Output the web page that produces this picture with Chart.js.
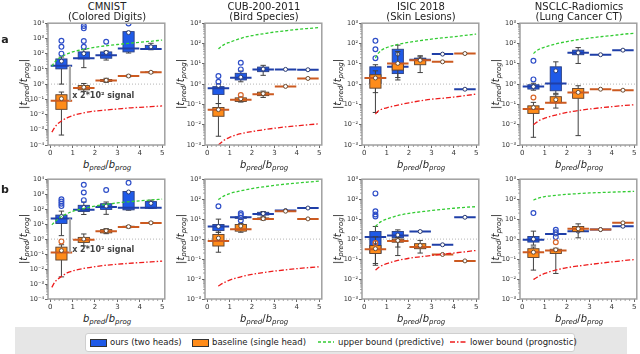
<!DOCTYPE html>
<html><head><meta charset="utf-8">
<script src="https://cdn.jsdelivr.net/npm/chart.js@4.4.1/dist/chart.umd.min.js"></script>
<style>
html,body{margin:0;padding:0;background:#fff;}
#fig{position:relative;width:640px;height:354px;overflow:hidden;font-family:"DejaVu Sans",sans-serif;color:#222;}
#fig canvas{position:absolute;}
.lbl{position:absolute;white-space:nowrap;transform:translate(-50%,-50%);line-height:1;}
.title{font-size:10px;}
.ytitle{font-size:10px;transform:translate(-50%,-50%) rotate(-90deg);}
.xtitle{font-size:10px;}
.lbl sub{font-size:70%;vertical-align:-2px;line-height:0;}
.row{font-weight:bold;font-size:11px;}
#band{position:absolute;left:15px;top:327px;width:612px;height:27px;background:#e6e6e6;}
#leg{position:absolute;left:85px;top:333px;width:488px;height:17px;background:#fff;border:1px solid #cfcfcf;border-radius:3px;font-size:8.5px;}
.li{position:absolute;top:0;height:17px;line-height:17px;white-space:nowrap;}
.sw{position:absolute;top:5px;width:15px;height:6px;border:1px solid #333;}
.ln{position:absolute;top:5px;width:16px;height:6px;}
</style></head>
<body><div id="fig"><div id="band"></div><div id="leg"></div></div>
<script>
// ---------------- data ----------------
const BIN_CENTERS = [0.5, 1.5, 2.5, 3.5, 4.5];
const X_TICKS = [0, 1, 2, 3, 4, 5];
const Y_TICKS_WIDE = [1e-4, 1e-3, 1e-2, 1e-1, 1, 1e1, 1e2, 1e3, 1e4];
const Y_TICKS_NARROW = [1e-3, 1e-2, 1e-1, 1, 1e1, 1e2, 1e3];
const Y_LABELS = {'-4':'10⁻⁴','-3':'10⁻³','-2':'10⁻²','-1':'10⁻¹','0':'10⁰','1':'10¹','2':'10²','3':'10³','4':'10⁴'};
const DATASET_TITLES = ['CMNIST', 'CUB-200-2011', 'ISIC 2018', 'NSCLC-Radiomics'];
const DATASET_SUBTITLES = ['(Colored Digits)', '(Bird Species)', '(Skin Lesions)', '(Lung Cancer CT)'];
const ROW_LABELS = ['a', 'b'];
const SERIES_NAMES = ['ours (two heads)', 'baseline (single head)', 'upper bound (predictive)', 'lower bound (prognostic)'];
const SIGNAL_TEXT = 'x 2*10² signal';
const SIGNAL_LABEL_Y = [0.18, 0.19];

// per bin: [line, whiskerLow, q1, q3, whiskerHigh, mean]
const CMNIST_A_OURS = [[16,1.0,10,45,60,32],[50,12,45,130,190,100],[80,38,50,130,150,120],[215,110,130,2800,2900,2400],[200,180,190,350,480,280]];
const CMNIST_A_OURS_OUT = [[100,280,700],[280,680,4600,6500],[600],[9500],[]];
const CMNIST_A_BASE = [[0.08,4.5e-4,0.022,0.2,0.3,0.11],[0.55,0.33,0.42,0.8,1.1,0.62],[1.75,1.3,1.5,2.0,2.4,1.8],[3.4,3.0,3.2,3.7,3.9,3.4],[6.0,5.4,5.7,6.3,6.6,6.0]];
const CMNIST_A_BASE_OUT = [[],[],[],[],[]];
const CUB_A_OURS = [[0.63,0.11,0.31,0.75,1.0,0.85],[2.05,1.3,1.6,3.4,4.4,2.2],[5.3,2.7,4.1,6.9,8.4,5.5],[5.3,null,null,null,null,5.3],[5.1,null,null,null,null,5.1]];
const CUB_A_OURS_OUT = [[1.3,2.5],[5.3,11.3],[],[],[]];
const CUB_A_BASE = [[0.054,2.7e-3,0.026,0.07,0.11,0.055],[0.17,0.13,0.14,0.21,0.23,0.19],[0.32,0.22,0.27,0.4,0.45,0.34],[0.77,null,null,null,null,0.77],[1.9,null,null,null,null,1.9]];
const CUB_A_BASE_OUT = [[],[0.29],[],[],[]];
const ISIC_A_OURS = [[2.0,0.38,1.08,7.1,9,2.0],[7.1,1.6,3.3,52,83,30],[16,12,14,19,22,16],[30,null,null,null,null,30],[0.56,null,null,null,null,0.56]];
const ISIC_A_OURS_OUT = [[19,52,135],[],[],[],[]];
const ISIC_A_BASE = [[2.0,0.04,0.63,2.9,4.5,2.0],[10.4,2.1,4.9,10.4,40,10.5],[15,3.7,9,17,25,15],[12.5,null,null,null,null,12.5],[32,null,null,null,null,32]];
const ISIC_A_BASE_OUT = [[],[],[],[],[]];
const NSCLC_A_OURS = [[0.77,0.5,0.57,0.93,1.1,0.75],[1.07,0.35,0.47,7.1,12.5,4.5],[35,10.4,28,47,63,35],[28,null,null,null,null,28],[47,null,null,null,null,47]];
const NSCLC_A_OURS_OUT = [[1.7,14],[],[],[],[]];
const NSCLC_A_BASE = [[0.059,2.4e-3,0.036,0.085,0.126,0.07],[0.12,0.066,0.12,0.24,0.3,0.17],[0.39,2.9e-3,0.2,0.61,0.83,0.39],[0.56,null,null,null,null,0.56],[0.5,null,null,null,null,0.5]];
const NSCLC_A_BASE_OUT = [[0.22],[],[],[],[]];

const CMNIST_B_OURS = [[24,1.7,11,40,74,32],[90,44,70,180,300,130],[138,45,96,230,300,160],[125,85,90,1500,1500,1400],[125,110,115,320,400,245]];
const CMNIST_B_OURS_OUT = [[160,230,320,460],[400,1300,4200],[1900],[5700],[]];
const CMNIST_B_BASE = [[0.126,3e-3,0.04,0.29,0.42,0.17],[0.9,0.35,0.6,1.3,2.2,1.0],[3.3,2.3,2.6,4.3,5.0,3.6],[6.5,5.6,6.0,7.2,7.8,6.8],[12,11,11.5,12.8,13.5,12.2]];
const CMNIST_B_BASE_OUT = [[0.7],[],[],[],[]];
const CUB_B_OURS = [[4.3,2.2,2.7,5.4,10,4.3],[12.4,9.5,11,13,14,12.4],[18,14,16,22,24,19],[27,null,null,null,null,27],[36,null,null,null,null,36]];
const CUB_B_OURS_OUT = [[44],[8.5,16,19.6],[],[],[]];
const CUB_B_BASE = [[0.8,0.22,0.45,1.7,2.2,1.12],[3.1,2.2,2.5,5.4,6,4.5],[10.3,9,9.5,11.5,12,10.5],[25,null,null,null,null,25],[10.3,null,null,null,null,10.3]];
const CUB_B_BASE_OUT = [[],[],[],[],[]];
const ISIC_B_OURS = [[1.26,0.049,0.2,2.4,4.3,0.7],[1.5,0.15,1.16,2.4,2.9,1.6],[2.4,null,null,null,null,2.4],[0.52,null,null,null,null,0.52],[12.4,null,null,null,null,12.4]];
const ISIC_B_OURS_OUT = [[13.5,17,25,195],[],[],[],[]];
const ISIC_B_BASE = [[0.31,0.06,0.19,0.48,1.3,0.33],[0.8,0.4,0.7,1.0,1.2,0.85],[0.4,0.2,0.33,0.59,0.86,0.48],[0.17,null,null,null,null,0.17],[0.081,null,null,null,null,0.081]];
const ISIC_B_BASE_OUT = [[0.63],[],[],[],[]];
const NSCLC_B_OURS = [[0.93,0.5,0.71,1.35,2.5,1.0],[1.8,1.6,1.7,1.9,2.0,1.8],[2.5,null,null,null,null,2.5],[3.0,null,null,null,null,3.0],[4.4,null,null,null,null,4.4]];
const NSCLC_B_OURS_OUT = [[20],[1.26,2.2,2.9],[],[],[]];
const NSCLC_B_BASE = [[0.22,0.028,0.12,0.33,0.4,0.22],[0.27,0.019,0.19,0.31,0.35,0.29],[3.3,1.16,2.4,4.3,5.8,3.3],[3.0,null,null,null,null,3.0],[6.5,null,null,null,null,6.5]];
const NSCLC_B_BASE_OUT = [[],[0.7],[],[],[]];

// bound curves
const BOUND_X_CMNIST = [0.07,0.2,0.3,0.5,0.75,1,1.5,2,2.5,3,3.5,4,4.5,5];
const BOUND_X = [0.5,0.6,0.75,1,1.5,2,2.5,3,3.5,4,4.5,5];
const CMNIST_A_UPPER = [15,28,40,62,95,130,190,260,330,400,480,560,650,780];
const CMNIST_A_LOWER = [7e-4,1.4e-3,2.2e-3,3.8e-3,6e-3,8.5e-3,0.013,0.017,0.02,0.023,0.027,0.03,0.033,0.037];
const CMNIST_B_UPPER = [9,14,19,32,50,72,110,160,210,260,310,360,410,470];
const CMNIST_B_LOWER = [6e-4,1.3e-3,1.9e-3,3.2e-3,5.5e-3,7.5e-3,0.011,0.0145,0.018,0.021,0.024,0.027,0.030,0.034];
const CUB_A_UPPER = [55,68,88,115,180,245,300,365,425,490,550,610];
const CUB_A_LOWER = [1.0e-3,1.25e-3,1.7e-3,2.4e-3,3.6e-3,4.6e-3,5.6e-3,6.7e-3,7.8e-3,8.8e-3,9.9e-3,0.011];
const ISIC_A_UPPER = [19,30,45,63,90,115,138,165,190,215,250,290];
const ISIC_A_LOWER = [0.033,0.045,0.056,0.068,0.092,0.12,0.15,0.18,0.2,0.23,0.27,0.32];
const NSCLC_A_UPPER = [32,40,52,66,95,125,155,185,215,245,285,320];
const NSCLC_A_LOWER = [0.01,0.012,0.016,0.021,0.03,0.04,0.05,0.059,0.068,0.077,0.087,0.096];
const CUB_B_UPPER = [94,115,145,190,260,340,410,490,570,640,720,800];
const CUB_B_LOWER = [4.4e-3,5.3e-3,6.6e-3,8.8e-3,0.013,0.017,0.021,0.025,0.029,0.033,0.037,0.041];
const ISIC_B_UPPER = [4.3,5.5,7.5,10,15,19.6,23,27,31,35,39,42];
const ISIC_B_LOWER = [0.028,0.035,0.045,0.059,0.085,0.11,0.13,0.15,0.175,0.2,0.23,0.27];
const NSCLC_B_UPPER = [90,100,115,135,155,175,190,205,215,225,235,245];
const NSCLC_B_LOWER = [9.5e-3,0.011,0.014,0.019,0.028,0.037,0.045,0.053,0.062,0.072,0.083,0.094];

// ---------------- layout & style ----------------
const X_MIN = -0.1, X_MAX = 5.12;
const PLOT_LEFT = [48, 205, 362, 520], PLOT_W = 118;
const ROW_TOP = [23, 179], ROW_H = [122, 120];
const YAX_W = 40, XAX_H = 14, PAD_T = 5, PAD_R = 4;
const BOX_HALF = 0.25, CAP_HALF = 0.12, LINE_HALF = 0.48, SIGNAL_X = 0.88;
const C = {
  oursFill:'#1f5ae8', oursEdge:'#2b3f80', oursLine:'#1f3fa8', oursOut:'#2f4fc8',
  baseFill:'#ff8c1a', baseEdge:'#5a4030', baseLine:'#cc5a20', baseOut:'#d8662a',
  whisker:'#404040', upper:'#33cc33', lower:'#ee1c1c', frame:'#a0a0a0', tick:'#444', ref:'#b5b5b5', signal:'#a8a8a8'
};
const UPPER_DASH = [3, 2], LOWER_DASH = [5, 2, 1.5, 2];

const PANELS = [
  {row:0,col:0,ours:CMNIST_A_OURS,oursOut:CMNIST_A_OURS_OUT,base:CMNIST_A_BASE,baseOut:CMNIST_A_BASE_OUT,bx:BOUND_X_CMNIST,up:CMNIST_A_UPPER,lo:CMNIST_A_LOWER,wide:true},
  {row:0,col:1,ours:CUB_A_OURS,oursOut:CUB_A_OURS_OUT,base:CUB_A_BASE,baseOut:CUB_A_BASE_OUT,bx:BOUND_X,up:CUB_A_UPPER,lo:CUB_A_LOWER},
  {row:0,col:2,ours:ISIC_A_OURS,oursOut:ISIC_A_OURS_OUT,base:ISIC_A_BASE,baseOut:ISIC_A_BASE_OUT,bx:BOUND_X,up:ISIC_A_UPPER,lo:ISIC_A_LOWER},
  {row:0,col:3,ours:NSCLC_A_OURS,oursOut:NSCLC_A_OURS_OUT,base:NSCLC_A_BASE,baseOut:NSCLC_A_BASE_OUT,bx:BOUND_X,up:NSCLC_A_UPPER,lo:NSCLC_A_LOWER},
  {row:1,col:0,ours:CMNIST_B_OURS,oursOut:CMNIST_B_OURS_OUT,base:CMNIST_B_BASE,baseOut:CMNIST_B_BASE_OUT,bx:BOUND_X_CMNIST,up:CMNIST_B_UPPER,lo:CMNIST_B_LOWER,wide:true},
  {row:1,col:1,ours:CUB_B_OURS,oursOut:CUB_B_OURS_OUT,base:CUB_B_BASE,baseOut:CUB_B_BASE_OUT,bx:BOUND_X,up:CUB_B_UPPER,lo:CUB_B_LOWER},
  {row:1,col:2,ours:ISIC_B_OURS,oursOut:ISIC_B_OURS_OUT,base:ISIC_B_BASE,baseOut:ISIC_B_BASE_OUT,bx:BOUND_X,up:ISIC_B_UPPER,lo:ISIC_B_LOWER},
  {row:1,col:3,ours:NSCLC_B_OURS,oursOut:NSCLC_B_OURS_OUT,base:NSCLC_B_BASE,baseOut:NSCLC_B_BASE_OUT,bx:BOUND_X,up:NSCLC_B_UPPER,lo:NSCLC_B_LOWER}
];

const fig = document.getElementById('fig');
function addLabel(html, cls, x, y) {
  const d = document.createElement('div');
  d.className = 'lbl ' + cls; d.innerHTML = html;
  d.style.left = x + 'px'; d.style.top = y + 'px';
  fig.appendChild(d);
}

// box + whisker drawing through the chart scales
const boxPlugin = {
  id: 'boxes',
  beforeDatasetDraw(chart, args) {
    const ds = chart.data.datasets[args.index];
    if (!ds.boxStats) return;
    const xs = chart.scales.x, ys = chart.scales.y, ctx = chart.ctx, a = chart.chartArea;
    ctx.save();
    ctx.beginPath(); ctx.rect(a.left, a.top, a.right - a.left, a.bottom - a.top); ctx.clip();
    ds.boxStats.forEach((s, i) => {
      if (s[1] == null) return;
      const c = BIN_CENTERS[i];
      const xl = xs.getPixelForValue(c - BOX_HALF), xr = xs.getPixelForValue(c + BOX_HALF), xc = xs.getPixelForValue(c);
      const cl = xs.getPixelForValue(c - CAP_HALF), cr = xs.getPixelForValue(c + CAP_HALF);
      const yLo = ys.getPixelForValue(s[1]), yQ1 = ys.getPixelForValue(s[2]), yQ3 = ys.getPixelForValue(s[3]), yHi = ys.getPixelForValue(s[4]);
      ctx.strokeStyle = C.whisker; ctx.lineWidth = 1;
      ctx.beginPath();
      ctx.moveTo(xc, yQ1); ctx.lineTo(xc, yLo); ctx.moveTo(cl, yLo); ctx.lineTo(cr, yLo);
      ctx.moveTo(xc, yQ3); ctx.lineTo(xc, yHi); ctx.moveTo(cl, yHi); ctx.lineTo(cr, yHi);
      ctx.stroke();
      ctx.fillStyle = ds.boxFill;
      ctx.fillRect(xl, yQ3, xr - xl, yQ1 - yQ3);
      ctx.strokeStyle = ds.boxEdge; ctx.lineWidth = 0.9;
      ctx.strokeRect(xl, yQ3, xr - xl, yQ1 - yQ3);
    });
    ctx.restore();
  }
};

// frame and minor ticks
const framePlugin = {
  id: 'frame',
  afterDraw(chart) {
    const a = chart.chartArea, ctx = chart.ctx, xs = chart.scales.x, ys = chart.scales.y;
    ctx.save();
    ctx.strokeStyle = C.tick; ctx.lineWidth = 0.6;
    ctx.beginPath();
    for (let v = 0.2; v < 5; v += 0.2) {
      if (Math.abs(v - Math.round(v)) < 1e-6) continue;
      const px = xs.getPixelForValue(v);
      ctx.moveTo(px, a.bottom); ctx.lineTo(px, a.bottom + 1.8);
    }
    const e0 = Math.round(Math.log10(ys.min)), e1 = Math.round(Math.log10(ys.max));
    for (let e = e0; e < e1; e++) for (let m = 2; m < 10; m++) {
      const py = ys.getPixelForValue(m * Math.pow(10, e));
      ctx.moveTo(a.left, py); ctx.lineTo(a.left - 1.8, py);
    }
    ctx.stroke();
    ctx.strokeStyle = C.frame; ctx.lineWidth = 1.5;
    ctx.strokeRect(a.left, a.top, a.right - a.left, a.bottom - a.top);
    ctx.restore();
  }
};

function binLine(stats) {
  const pts = [];
  stats.forEach((s, i) => {
    pts.push({x: BIN_CENTERS[i] - LINE_HALF, y: s[0]});
    pts.push({x: BIN_CENTERS[i] + LINE_HALF, y: s[0]});
    pts.push({x: BIN_CENTERS[i] + LINE_HALF, y: null});
  });
  return pts;
}
function means(stats) { return stats.map((s, i) => ({x: BIN_CENTERS[i], y: s[5]})); }
function outliers(list) { const p = []; list.forEach((l, i) => l.forEach(v => p.push({x: BIN_CENTERS[i], y: v}))); return p; }

PANELS.forEach((p, k) => {
  const L = PLOT_LEFT[p.col], T = ROW_TOP[p.row], H = ROW_H[p.row];
  const cv = document.createElement('canvas');
  const cw = YAX_W + PLOT_W + PAD_R, ch = PAD_T + H + XAX_H;
  cv.width = cw; cv.height = ch;
  cv.style.left = (L - YAX_W) + 'px'; cv.style.top = (T - PAD_T) + 'px';
  cv.style.width = cw + 'px'; cv.style.height = ch + 'px';
  fig.appendChild(cv);

  const yTicks = p.wide ? Y_TICKS_WIDE : Y_TICKS_NARROW;
  const datasets = [
    {data: [{x: X_MIN, y: 1}, {x: X_MAX, y: 1}], borderColor: C.ref, borderWidth: 1, borderDash: [1, 2], pointRadius: 0, order: 100},
    {data: binLine(p.ours), boxStats: p.ours, boxFill: C.oursFill, boxEdge: C.oursEdge, borderColor: C.oursLine, borderWidth: 2, pointRadius: 0, spanGaps: false, order: 90},
    {data: means(p.ours), showLine: false, pointRadius: 2, pointBackgroundColor: '#fff', pointBorderColor: '#2a3a70', pointBorderWidth: 1, order: 89},
    {data: outliers(p.oursOut), showLine: false, pointRadius: 2.4, pointBackgroundColor: 'rgba(0,0,0,0)', pointBorderColor: C.oursOut, pointBorderWidth: 1.2, order: 88},
    {data: binLine(p.base), boxStats: p.base, boxFill: C.baseFill, boxEdge: C.baseEdge, borderColor: C.baseLine, borderWidth: 2, pointRadius: 0, spanGaps: false, order: 80},
    {data: means(p.base), showLine: false, pointRadius: 2, pointBackgroundColor: '#fff', pointBorderColor: '#6a4a30', pointBorderWidth: 1, order: 79},
    {data: outliers(p.baseOut), showLine: false, pointRadius: 2.4, pointBackgroundColor: 'rgba(0,0,0,0)', pointBorderColor: C.baseOut, pointBorderWidth: 1.2, order: 78},
    {data: p.bx.map((x, i) => ({x, y: p.up[i]})), borderColor: C.upper, borderWidth: 1.3, borderDash: UPPER_DASH, pointRadius: 0, cubicInterpolationMode: 'monotone', order: 60},
    {data: p.bx.map((x, i) => ({x, y: p.lo[i]})), borderColor: C.lower, borderWidth: 1.3, borderDash: LOWER_DASH, pointRadius: 0, cubicInterpolationMode: 'monotone', order: 59}
  ];
  const plugins = [boxPlugin, framePlugin];
  if (p.col === 0) {
    datasets.push({data: [{x: SIGNAL_X, y: p.base[0][0]}, {x: SIGNAL_X, y: p.ours[0][0]}], borderColor: C.signal, borderWidth: 2.2, pointRadius: 0, order: 70});
    const ly = SIGNAL_LABEL_Y[p.row];
    plugins.push({id: 'signal', afterDatasetsDraw(chart) {
      const ctx = chart.ctx;
      ctx.save(); ctx.fillStyle = '#444'; ctx.font = 'bold 8px "DejaVu Sans"'; ctx.textBaseline = 'middle';
      ctx.fillText(SIGNAL_TEXT, chart.scales.x.getPixelForValue(SIGNAL_X + 0.1), chart.scales.y.getPixelForValue(ly));
      ctx.restore();
    }});
  }

  new Chart(cv, {
    type: 'line',
    data: {datasets},
    plugins,
    options: {
      responsive: false, animation: false, devicePixelRatio: 1,
      layout: {padding: {top: PAD_T, right: PAD_R, left: 0, bottom: 0}},
      plugins: {legend: {display: false}, tooltip: {enabled: false}},
      scales: {
        x: {type: 'linear', min: X_MIN, max: X_MAX,
            afterBuildTicks: s => { s.ticks = X_TICKS.map(v => ({value: v})); },
            afterFit: s => { s.height = XAX_H; },
            grid: {drawOnChartArea: false, drawTicks: true, tickLength: 3, color: C.tick, lineWidth: 0.8},
            border: {display: false},
            ticks: {font: {family: 'DejaVu Sans', size: 7}, color: '#333', padding: 1, maxRotation: 0, autoSkip: false}},
        y: {type: 'logarithmic', min: yTicks[0], max: yTicks[yTicks.length - 1],
            afterBuildTicks: s => { s.ticks = yTicks.map(v => ({value: v})); },
            afterFit: s => { s.width = YAX_W; },
            grid: {drawOnChartArea: false, drawTicks: true, tickLength: 3, color: C.tick, lineWidth: 0.8},
            border: {display: false},
            ticks: {font: {family: 'DejaVu Sans', size: 6.5}, color: '#333', padding: 1, autoSkip: false,
                    callback: v => Y_LABELS[String(Math.round(Math.log10(v)))]}}
      }
    }
  });

  const cx = L + PLOT_W / 2;
  if (p.row === 0) {
    addLabel(DATASET_TITLES[p.col], 'title', cx, 7);
    addLabel(DATASET_SUBTITLES[p.col], 'title', cx, 17);
  }
  addLabel('<i>b<sub>pred</sub></i>/<i>b<sub>prog</sub></i>', 'xtitle', cx, T + H + 20);
  addLabel('|<i>t<sub>pred</sub></i>/<i>t<sub>prog</sub></i>|', 'ytitle', L - 24, T + H / 2);
});
addLabel(ROW_LABELS[0], 'row', 5, 39);
addLabel(ROW_LABELS[1], 'row', 5, 189);

// legend
const leg = document.getElementById('leg');
const legItems = [
  {kind: 'sw', color: C.oursFill, x: 4, tx: 24},
  {kind: 'sw', color: C.baseFill, x: 106, tx: 126},
  {kind: 'ln', color: C.upper, dash: UPPER_DASH, x: 232, tx: 252},
  {kind: 'ln', color: C.lower, dash: LOWER_DASH, x: 364, tx: 384}
];
legItems.forEach((it, i) => {
  let m;
  if (it.kind === 'sw') {
    m = document.createElement('div'); m.className = 'sw'; m.style.background = it.color;
  } else {
    m = document.createElementNS('http://www.w3.org/2000/svg', 'svg');
    m.setAttribute('class', 'ln'); m.setAttribute('width', '16'); m.setAttribute('height', '6');
    const l = document.createElementNS('http://www.w3.org/2000/svg', 'line');
    l.setAttribute('x1', '0'); l.setAttribute('x2', '16'); l.setAttribute('y1', '3'); l.setAttribute('y2', '3');
    l.setAttribute('stroke', it.color); l.setAttribute('stroke-width', '1.3');
    l.setAttribute('stroke-dasharray', it.dash.join(','));
    m.appendChild(l);
  }
  m.style.left = it.x + 'px';
  leg.appendChild(m);
  const t = document.createElement('div');
  t.className = 'li'; t.style.left = it.tx + 'px'; t.textContent = SERIES_NAMES[i];
  leg.appendChild(t);
});
</script></body></html>
